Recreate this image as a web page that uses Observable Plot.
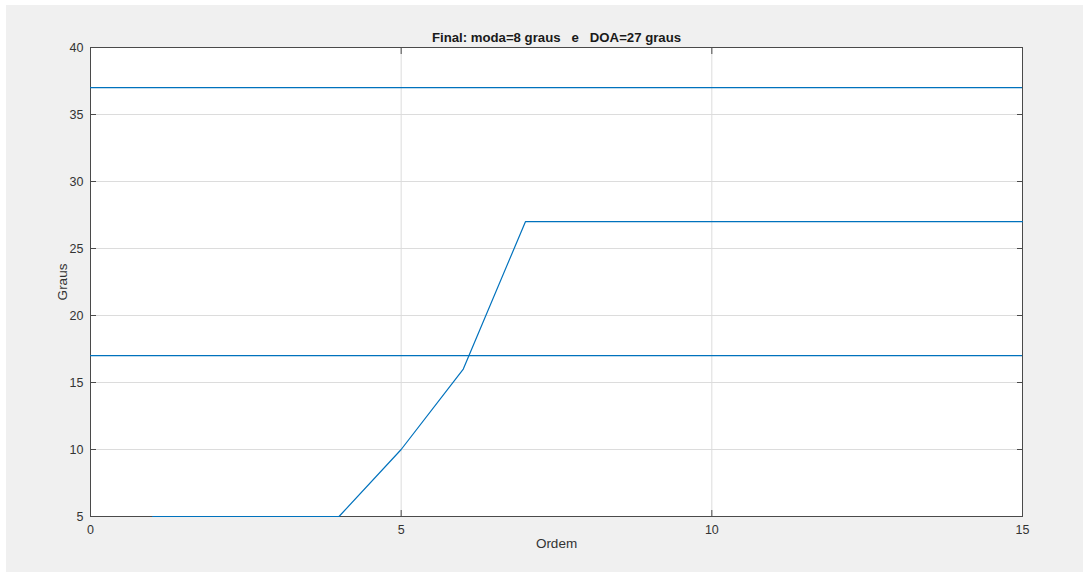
<!DOCTYPE html>
<html>
<head>
<meta charset="utf-8">
<script src="https://cdn.jsdelivr.net/npm/d3@7"></script>
<script src="https://cdn.jsdelivr.net/npm/@observablehq/plot@0.6"></script>
<style>
  html, body { margin: 0; padding: 0; background: #f0f0f0; overflow: hidden; }
  #topstrip { position: fixed; left: 0; top: 0; width: 100%; height: 5px; background: #ffffff; }
  #leftstrip { position: fixed; left: 0; top: 0; width: 6px; height: 100%; background: #ffffff; }
  #wrap { position: absolute; left: 6px; top: 5px; width: 1077px; height: 567px; background: #f0f0f0; }
  svg { font-family: "Liberation Sans", Arial, Helvetica, sans-serif; }
</style>
</head>
<body>
<div id="topstrip"></div>
<div id="leftstrip"></div>
<div id="wrap"></div>
<script>
const ordem = [1, 2, 3, 4, 5, 6, 7, 8, 9, 10, 11, 12, 13, 14, 15];
const graus = [5, 5, 5, 5, 10, 16, 27, 27, 27, 27, 27, 27, 27, 27, 27];
const refLines = [37, 17];
const xTicks = [0, 5, 10, 15];
const yTicks = [5, 10, 15, 20, 25, 30, 35, 40];
const titleText = "Final: moda=8 graus   e   DOA=27 graus";

const data = ordem.map((o, i) => ({ordem: o, graus: graus[i]}));
const axisColor = "#4a4a4a";
const textColor = "#333333";
const lineColor = "#0072bd";

const chart = Plot.plot({
  width: 1077,
  height: 567,
  marginLeft: 84,
  marginRight: 61,
  marginTop: 42,
  marginBottom: 56,
  style: { background: "transparent", fontSize: "12px", color: textColor, fontFamily: "'Liberation Sans', Arial, sans-serif", overflow: "visible" },
  x: { domain: [0, 15] },
  y: { domain: [5, 40] },
  marks: [
    Plot.frame({ fill: "white", stroke: null }),
    Plot.gridX(xTicks, { stroke: "#dcdcdc", strokeOpacity: 1 }),
    Plot.gridY(yTicks, { stroke: "#dcdcdc", strokeOpacity: 1 }),
    Plot.frame({ stroke: axisColor, strokeWidth: 1 }),
    Plot.ruleY(refLines, { stroke: lineColor, strokeWidth: 1.2 }),
    Plot.line(data, { x: "ordem", y: "graus", stroke: lineColor, strokeWidth: 1.2 }),
    Plot.axisX(xTicks, { anchor: "bottom", tickSize: -6, tickPadding: 15, stroke: axisColor, color: textColor, fontSize: 12.5,
      label: null }),
    Plot.axisX(xTicks, { anchor: "top", tickSize: -6, stroke: axisColor, tickFormat: () => "", label: null }),
    Plot.axisY(yTicks, { anchor: "left", tickSize: -6, tickPadding: 13, stroke: axisColor, color: textColor, fontSize: 12.5,
      label: null }),
    Plot.axisY(yTicks, { anchor: "right", tickSize: -6, stroke: axisColor, tickFormat: () => "", label: null }),
    Plot.text(["Ordem"], { frameAnchor: "bottom", dy: 31, fontSize: 13.5, fill: textColor }),
    Plot.text(["Graus"], { frameAnchor: "left", textAnchor: "middle", dx: -28, rotate: -90, fontSize: 13.5, fill: textColor }),
    Plot.text([titleText], { frameAnchor: "top", dy: -15, fontWeight: "bold", fontSize: 13.2, fill: "#1a1a1a" })
  ]
});
document.getElementById("wrap").appendChild(chart);
</script>
</body>
</html>
